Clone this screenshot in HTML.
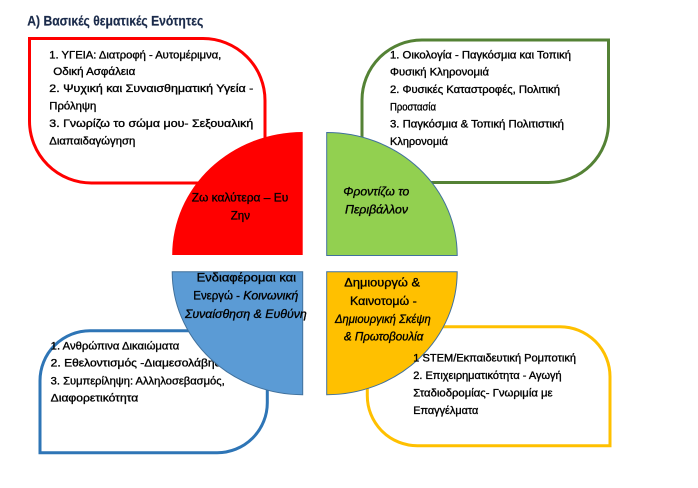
<!DOCTYPE html>
<html>
<head>
<meta charset="utf-8">
<style>
  html,body{margin:0;padding:0;background:#fff;}
  body{width:698px;height:488px;overflow:hidden;}
  svg{display:block;}
  text{font-family:"Liberation Sans","Noto Sans CJK SC",sans-serif;fill:#000;stroke:#000;stroke-width:0.35;}
  .t{font-size:11px;}
  .p{font-size:12px;}
  .i{font-style:italic;}
</style>
</head>
<body>
<svg width="698" height="488" viewBox="0 0 698 488" xmlns="http://www.w3.org/2000/svg">
  <rect x="0" y="0" width="698" height="488" fill="#fff"/>

  <!-- Title -->
  <text x="27.3" y="25.7" font-size="13.5" font-weight="bold" style="fill:#1b2b4b;stroke:#1b2b4b;stroke-width:0.2" textLength="176" lengthAdjust="spacingAndGlyphs">Α) Βασικές θεματικές Ενότητες</text>

  <!-- Boxes -->
  <path d="M29.5,38.5 H203 A62,62 0 0 1 265,100.5 V183 H91.5 A62,62 0 0 1 29.5,121 Z" fill="none" stroke="#FF0000" stroke-width="3"/>
  <path d="M422,40 H608.5 V122.5 A60,60 0 0 1 548.5,182.5 H362 V100 A60,60 0 0 1 422,40 Z" fill="none" stroke="#548235" stroke-width="3"/>
  <path d="M90,330.7 H267.3 V402.7 A50,50 0 0 1 217.3,452.7 H40 V380.7 A50,50 0 0 1 90,330.7 Z" fill="none" stroke="#2E75B6" stroke-width="3"/>
  <path d="M367.3,326.7 H560 A50,50 0 0 1 610,376.7 V445.7 H417.3 A50,50 0 0 1 367.3,395.7 Z" fill="none" stroke="#FFC000" stroke-width="3"/>

  <!-- Red box text -->
  <text class="t" x="49.3" y="58.5" textLength="172" lengthAdjust="spacingAndGlyphs">1. ΥΓΕΙΑ: Διατροφή - Αυτομέριμνα,</text>
  <text class="t" x="53.3" y="75" textLength="82" lengthAdjust="spacingAndGlyphs">Οδική Ασφάλεια</text>
  <text class="t" x="49.3" y="92" textLength="204" lengthAdjust="spacingAndGlyphs">2. Ψυχική και Συναισθηματική Υγεία -</text>
  <text class="t" x="49.3" y="109.3" textLength="47" lengthAdjust="spacingAndGlyphs">Πρόληψη</text>
  <text class="t" x="49.3" y="126.8" textLength="204" lengthAdjust="spacingAndGlyphs">3. Γνωρίζω το σώμα μου- Σεξουαλική</text>
  <text class="t" x="49.3" y="144.3" textLength="86" lengthAdjust="spacingAndGlyphs">Διαπαιδαγώγηση</text>

  <!-- Green box text -->
  <text class="t" x="390" y="58.3" textLength="181" lengthAdjust="spacingAndGlyphs">1. Οικολογία - Παγκόσμια και Τοπική</text>
  <text class="t" x="390" y="75.5" textLength="99" lengthAdjust="spacingAndGlyphs">Φυσική Κληρονομιά</text>
  <text class="t" x="390" y="93" textLength="170" lengthAdjust="spacingAndGlyphs">2. Φυσικές Καταστροφές, Πολιτική</text>
  <text class="t" x="390" y="110.3" textLength="46" lengthAdjust="spacingAndGlyphs">Προστασία</text>
  <text class="t" x="390" y="127.5" textLength="174" lengthAdjust="spacingAndGlyphs">3. Παγκόσμια &amp; Τοπική Πολιτιστική</text>
  <text class="t" x="390" y="145" textLength="58" lengthAdjust="spacingAndGlyphs">Κληρονομιά</text>

  <!-- Blue box text (under pie) -->
  <text class="t" x="50.7" y="349.3" textLength="128.6" lengthAdjust="spacingAndGlyphs">1. Ανθρώπινα Δικαιώματα</text>
  <text class="t" x="50.7" y="366.7" textLength="178" lengthAdjust="spacingAndGlyphs">2. Εθελοντισμός  -Διαμεσολάβηση</text>
  <text class="t" x="50.7" y="384.7" textLength="174" lengthAdjust="spacingAndGlyphs">3. Συμπερίληψη: Αλληλοσεβασμός,</text>
  <text class="t" x="50.7" y="401.7" textLength="87.6" lengthAdjust="spacingAndGlyphs">Διαφορετικότητα</text>

  <!-- Pie quadrants -->
  <path d="M302.7,255 V132 A130.5,123 0 0 0 172.2,255 Z" fill="#FF0000"/>
  <path d="M326.7,255.5 V132.5 A130.5,123 0 0 1 457.2,255.5 Z" fill="#92D050" stroke="#41719C" stroke-width="1"/>
  <path d="M302.7,271.7 H172.2 A130.5,123 0 0 0 302.7,394.7 Z" fill="#5B9BD5" stroke="#41719C" stroke-width="1"/>
  <path d="M326.7,271.7 V394.7 A130.5,123 0 0 0 457.2,271.7 Z" fill="#FFC000" stroke="#41719C" stroke-width="1"/>

  <!-- Pie labels -->
  <text class="p" x="191.7" y="201.5" textLength="96.6" lengthAdjust="spacingAndGlyphs">Ζω καλύτερα – Ευ</text>
  <text class="p" x="230.7" y="219.5" textLength="19.3" lengthAdjust="spacingAndGlyphs">Ζην</text>

  <text class="p i" x="343.3" y="195.5" textLength="66" lengthAdjust="spacingAndGlyphs">Φροντίζω το</text>
  <text class="p i" x="345" y="213.5" textLength="63" lengthAdjust="spacingAndGlyphs">Περιβάλλον</text>

  <text class="p" x="196.7" y="281.5" textLength="99.3" lengthAdjust="spacingAndGlyphs">Ενδιαφέρομαι και</text>
  <text class="p" x="193.3" y="299.5" textLength="46.7" lengthAdjust="spacingAndGlyphs">Ενεργώ -</text>
  <text class="p i" x="243.3" y="299.5" textLength="55" lengthAdjust="spacingAndGlyphs">Κοινωνική</text>
  <text class="p i" x="185" y="318" textLength="121.7" lengthAdjust="spacingAndGlyphs">Συναίσθηση &amp; Ευθύνη</text>

  <text class="p" x="344.3" y="286.5" textLength="75.7" lengthAdjust="spacingAndGlyphs">Δημιουργώ &amp;</text>
  <text class="p" x="350" y="305" textLength="66.7" lengthAdjust="spacingAndGlyphs">Καινοτομώ -</text>
  <text class="p i" x="335" y="323" textLength="95.7" lengthAdjust="spacingAndGlyphs">Δημιουργική Σκέψη</text>
  <text class="p i" x="344" y="340.5" textLength="79.3" lengthAdjust="spacingAndGlyphs">&amp; Πρωτοβουλία</text>

  <!-- Yellow box text (over pie) -->
  <text class="t" x="413.3" y="361.7" textLength="162.7" lengthAdjust="spacingAndGlyphs">1 STEM/Εκπαιδευτική Ρομποτική</text>
  <text class="t" x="413.3" y="379" textLength="148.3" lengthAdjust="spacingAndGlyphs">2. Επιχειρηματικότητα - Αγωγή</text>
  <text class="t" x="413.3" y="396.7" textLength="139.3" lengthAdjust="spacingAndGlyphs">Σταδιοδρομίας- Γνωριμία με</text>
  <text class="t" x="413.3" y="414" textLength="65" lengthAdjust="spacingAndGlyphs">Επαγγέλματα</text>
</svg>
</body>
</html>
